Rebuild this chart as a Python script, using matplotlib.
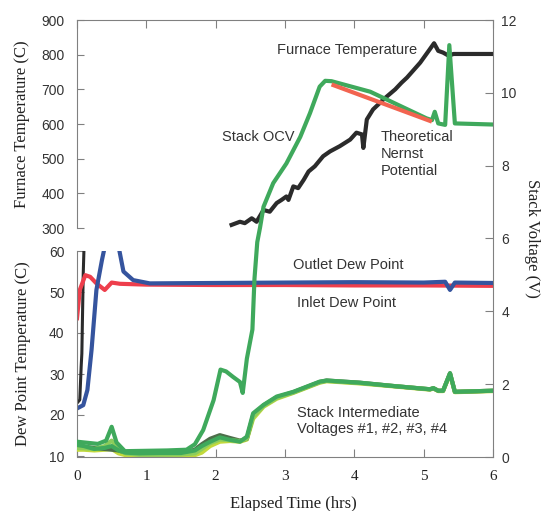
import matplotlib.pyplot as plt

plt.rcParams['font.family'] = ['Liberation Sans', 'DejaVu Sans']
SERIF = 'Liberation Serif'

# ======================
# DATA
# ======================
# Stack OCV (V)
ocv_t = [0, 0.1, 0.3, 0.42, 0.5, 0.57, 0.69, 1.0, 1.3, 1.58, 1.7, 1.82, 1.97, 2.07, 2.15, 2.25,
         2.35, 2.39, 2.45, 2.53, 2.56, 2.6, 2.64, 2.69, 2.83, 3.02, 3.22, 3.36, 3.5, 3.58, 3.67,
         4.23, 5.04, 5.12, 5.16, 5.21, 5.31, 5.37, 5.45, 6.0]
ocv_v = [0.42, 0.4, 0.36, 0.45, 0.83, 0.4, 0.16, 0.17, 0.18, 0.2, 0.35, 0.74, 1.56, 2.4, 2.35, 2.2,
         2.06, 1.76, 2.7, 3.5, 4.9, 5.9, 6.3, 6.87, 7.52, 8.06, 8.79, 9.44, 10.17, 10.33, 10.32,
         10.03, 9.3, 9.25, 9.48, 9.16, 9.12, 11.31, 9.16, 9.13]

# Theoretical Nernst potential (V)
nernst_t = [3.7, 5.09]
nernst_v = [10.21, 9.23]

# Stack intermediate voltages #1-#4 (V)
int_t = [0, 0.1, 0.25, 0.4, 0.5, 0.6, 0.7, 0.9, 1.2, 1.5, 1.7, 1.8, 1.92, 2.06, 2.21, 2.35, 2.45,
         2.54, 2.69, 2.88, 3.12, 3.31, 3.5, 3.6, 4.08, 4.56, 5.09, 5.14, 5.21, 5.28, 5.38, 5.45, 6.0]
int_v1 = [0.30, 0.28, 0.25, 0.22, 0.20, 0.18, 0.12, 0.10, 0.10, 0.10, 0.20, 0.35, 0.50, 0.60, 0.52,
          0.45, 0.50, 1.15, 1.42, 1.64, 1.78, 1.92, 2.06, 2.10, 2.04, 1.95, 1.86, 1.89, 1.82, 1.82,
          2.30, 1.79, 1.82]
int_v2 = [0.20, 0.20, 0.18, 0.20, 0.22, 0.10, 0.05, 0.02, 0.02, 0.03, 0.05, 0.12, 0.30, 0.42, 0.44,
          0.42, 0.48, 1.05, 1.38, 1.60, 1.76, 1.90, 2.04, 2.08, 2.02, 1.94, 1.85, 1.88, 1.81, 1.81,
          2.28, 1.78, 1.81]
int_v3 = [0.25, 0.24, 0.22, 0.30, 0.45, 0.20, 0.10, 0.06, 0.06, 0.07, 0.10, 0.22, 0.38, 0.48, 0.46,
          0.44, 0.50, 1.10, 1.40, 1.62, 1.77, 1.91, 2.05, 2.09, 2.03, 1.95, 1.86, 1.89, 1.82, 1.82,
          2.29, 1.79, 1.82]
int_v4 = [0.33, 0.30, 0.22, 0.25, 0.30, 0.18, 0.12, 0.10, 0.11, 0.11, 0.18, 0.30, 0.42, 0.54, 0.47,
          0.42, 0.56, 1.20, 1.43, 1.66, 1.79, 1.93, 2.07, 2.10, 2.04, 1.95, 1.86, 1.89, 1.82, 1.82,
          2.30, 1.79, 1.82]

# Furnace temperature (C)
furn_t = [2.23, 2.35, 2.42, 2.52, 2.59, 2.69, 2.78, 2.88, 2.95, 3.02, 3.05, 3.12, 3.19, 3.27, 3.34,
          3.43, 3.55, 3.65, 3.79, 3.94, 4.03, 4.11, 4.13, 4.18, 4.27, 4.37, 4.42, 4.59, 4.68, 4.76,
          4.95, 5.09, 5.15, 5.21, 5.28, 5.36, 5.43, 6.0]
furn_c = [309, 318, 314, 328, 318, 352, 347, 372, 381, 391, 381, 420, 415, 439, 463,
          478, 507, 521, 536, 555, 575, 570, 531, 613, 642, 661, 671, 700, 719, 734,
          777, 816, 833, 811, 806, 797, 802, 802]

# Dew points (C)
inlet_t = [0, 0.04, 0.12, 0.19, 0.28, 0.4, 0.5, 0.62, 1.0, 2.0, 3.0, 4.0, 5.0, 6.0]
inlet_c = [43.6, 50.5, 54.1, 53.7, 52.1, 50.5, 52.3, 52.0, 51.8, 51.7, 51.7, 51.6, 51.6, 51.5]

outlet_t = [0, 0.09, 0.15, 0.21, 0.28, 0.36, 0.39, 0.5, 0.61, 0.67, 0.81, 1.05, 2.0, 3.0, 4.0,
            5.0, 5.31, 5.38, 5.45, 6.0]
outlet_c = [21.6, 22.4, 26.1, 35.9, 50.5, 57.8, 60.2, 68, 60.2, 55.0, 52.9, 52.1, 52.2, 52.3, 52.4,
            52.3, 52.5, 50.5, 52.3, 52.2]

spike_t = [0, 0.04, 0.06, 0.07, 0.09, 0.1, 0.12]
spike_c = [22.9, 23.7, 31.8, 35, 54.5, 60.2, 75]

x_ticks = [0, 1, 2, 3, 4, 5, 6]
volt_ticks = [0, 2, 4, 6, 8, 10, 12]
furn_ticks = [300, 400, 500, 600, 700, 800, 900]
dew_ticks = [10, 20, 30, 40, 50, 60]

# ======================
# COLOURS
# ======================
GREEN = '#3fa95c'
DARK_GREEN = '#4d6e4a'
YELLOW_GREEN = '#c2d93c'
LIGHT_GREEN = '#8ccd5c'
RED = '#ee3e4c'
ORANGE_RED = '#f26450'
BLUE = '#35549e'
BLACK = '#2b2b2b'
SPINE = '#808080'
TXT = '#333333'

# ======================
# FIGURE / AXES
# ======================
fig = plt.figure(figsize=(5.43, 5.11), dpi=100)
W_PX, H_PX = 543, 511
L, R = 77 / W_PX, 493 / W_PX


def frac_y(top_px, bot_px):
    return [L, 1 - bot_px / H_PX, R - L, (bot_px - top_px) / H_PX]


ax_dew = fig.add_axes(frac_y(251, 456))
ax_furn = fig.add_axes(frac_y(20, 228))
ax_v = fig.add_axes(frac_y(20, 457))

for ax in (ax_dew, ax_furn):
    ax.patch.set_visible(False)
    ax.set_xlim(0, 6)
    ax.set_xticks([])
    for s in ('top', 'right', 'bottom'):
        ax.spines[s].set_visible(False)
    ax.spines['left'].set_color(SPINE)
    ax.spines['left'].set_linewidth(0.8)
    ax.tick_params(axis='y', direction='in', length=5, color=SPINE, labelsize=10,
                   labelcolor=TXT, pad=9)

ax_v.patch.set_visible(False)
ax_v.spines['left'].set_visible(False)
for s in ('top', 'right', 'bottom'):
    ax_v.spines[s].set_color(SPINE)
    ax_v.spines[s].set_linewidth(0.8)

# ======================
# LINES
# ======================
lw = 3
ax_dew.plot(spike_t, spike_c, color=BLACK, lw=2.2)
ax_dew.plot(inlet_t, inlet_c, color=RED, lw=lw)
ax_dew.plot(outlet_t, outlet_c, color=BLUE, lw=lw)
ax_dew.set_ylim(10, 60)
ax_dew.set_yticks(dew_ticks)

ax_furn.plot(furn_t, furn_c, color=BLACK, lw=lw)
ax_furn.set_ylim(300, 900)
ax_furn.set_yticks(furn_ticks)

ax_v.plot(int_t, int_v2, color=YELLOW_GREEN, lw=lw)
ax_v.plot(int_t, int_v1, color=DARK_GREEN, lw=lw)
ax_v.plot(int_t, int_v3, color=LIGHT_GREEN, lw=lw)
ax_v.plot(int_t, int_v4, color=GREEN, lw=lw)
ax_v.plot(ocv_t, ocv_v, color=GREEN, lw=lw)
ax_v.plot(nernst_t, nernst_v, color=ORANGE_RED, lw=lw)

ax_v.set_xlim(0, 6)
ax_v.set_ylim(0, 12)
ax_v.set_xticks(x_ticks)
ax_v.set_yticks(volt_ticks)
ax_v.yaxis.tick_right()
ax_v.yaxis.set_label_position('right')
ax_v.tick_params(axis='y', direction='in', length=6, color=SPINE, labelsize=10,
                 labelcolor=TXT, pad=6)
ax_v.tick_params(axis='x', direction='in', top=True, length=6, color=SPINE, labelsize=11,
                 labelcolor='#222222', pad=9)
for lbl in ax_v.get_xticklabels():
    lbl.set_fontfamily(SERIF)

# ======================
# AXIS LABELS
# ======================
lab = dict(fontfamily=SERIF, fontsize=12, color='#222222')
ax_v.set_xlabel('Elapsed Time (hrs)', labelpad=10, **lab)
ax_v.xaxis.label.set_x(0.52)
ax_v.set_ylabel('Stack Voltage (V)', rotation=270, labelpad=17, **lab)
ax_furn.set_ylabel('Furnace Temperature (C)', labelpad=8, **lab)
ax_dew.set_ylabel('Dew Point Temperature (C)', labelpad=13, **lab)

# ======================
# ANNOTATIONS
# ======================
def note(x_px, y_px, text):
    fig.text(x_px / W_PX, 1 - y_px / H_PX, text, fontsize=10.5, color=TXT,
             ha='left', va='center', linespacing=1.25)


note(277, 50, 'Furnace Temperature')
note(222, 137, 'Stack OCV')
note(381, 154, 'Theoretical\nNernst\nPotential')
note(293, 265, 'Outlet Dew Point')
note(297, 303, 'Inlet Dew Point')
note(297, 421, 'Stack Intermediate\nVoltages #1, #2, #3, #4')

fig.savefig('out.png', dpi=100)
